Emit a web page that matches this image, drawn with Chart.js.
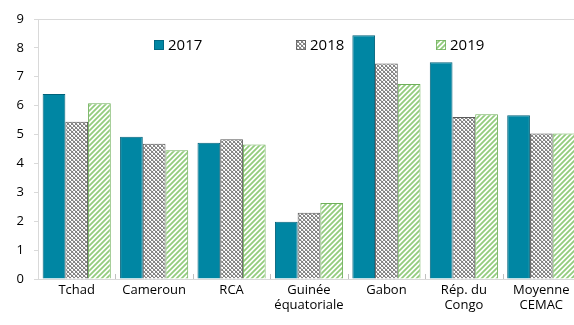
<!DOCTYPE html>
<html><head><meta charset="utf-8">
<script src="https://cdn.jsdelivr.net/npm/chart.js@4.4.1/dist/chart.umd.min.js"></script>
<style>html,body{margin:0;padding:0;overflow:hidden;background:#fff}#wrap{width:581px;height:325px;position:relative}</style>
</head><body><div id="wrap"><canvas id="c" width="581" height="325"></canvas></div>
<script>
const categories = [['Tchad'], ['Cameroun'], ['RCA'], ['Guinée', 'équatoriale'], ['Gabon'], ['Rép. du', 'Congo'], ['Moyenne', 'CEMAC']];
const seriesNames = ['2017', '2018', '2019'];
const values2017 = [6.40, 4.92, 4.72, 1.98, 8.44, 7.50, 5.67];
const values2018 = [5.44, 4.68, 4.84, 2.29, 7.46, 5.61, 5.04];
const values2019 = [6.08, 4.46, 4.66, 2.63, 6.75, 5.70, 5.04];
const yTicks = [0, 1, 2, 3, 4, 5, 6, 7, 8, 9];

const FONT = "'Open Sans', 'Noto Sans', sans-serif";

function grayPattern() {
  const c = document.createElement('canvas'); c.width = 4; c.height = 4;
  const g = c.getContext('2d');
  g.fillStyle = '#ffffff'; g.fillRect(0, 0, 4, 4);
  g.fillStyle = '#858585';
  [[0,0],[1,1],[2,2],[3,3],[3,0],[2,1],[1,2],[0,3]].forEach(([x,y])=>g.fillRect(x,y,1,1));
  g.fillStyle = '#c8c8c8';
  [[1,0],[3,2]].forEach(([x,y])=>g.fillRect(x,y,1,1));
  return g.createPattern(c, 'repeat');
}
function greenPattern() {
  const s = 5;
  const c = document.createElement('canvas'); c.width = s; c.height = s;
  const g = c.getContext('2d');
  g.fillStyle = '#ffffff'; g.fillRect(0, 0, s, s);
  g.strokeStyle = '#93cc7e'; g.lineWidth = 1.8;
  g.beginPath();
  g.moveTo(-1, s + 1); g.lineTo(s + 1, -1);
  g.moveTo(-1, 1); g.lineTo(1, -1);
  g.moveTo(s - 1, s + 1); g.lineTo(s + 1, s - 1);
  g.stroke();
  return g.createPattern(c, 'repeat');
}

const fills = ['#0086a3', grayPattern(), greenPattern()];
const borders = ['#00627a', '#5a5a5a', '#6fb05a'];
const seriesValues = [values2017, values2018, values2019];

const frameAndLegend = {
  id: 'frameAndLegend',
  afterDatasetsDraw(chart) {
    const ctx = chart.ctx, a = chart.chartArea, xs = chart.scales.x;
    ctx.save();
    ctx.strokeStyle = '#d9d9d9'; ctx.lineWidth = 1;
    ctx.beginPath(); ctx.moveTo(a.left, a.top + 0.5); ctx.lineTo(a.right, a.top + 0.5); ctx.stroke();
    const n = categories.length, w = (xs.right - xs.left) / n;
    ctx.strokeStyle = '#bfbfbf';
    ctx.beginPath();
    for (let i = 1; i < n; i++) {
      const x = Math.round(xs.getPixelForValue(i) - w / 2) + 0.5;
      ctx.moveTo(x, a.bottom); ctx.lineTo(x, a.bottom - 5);
    }
    ctx.stroke();
    const offs = [116, 258, 398];
    const cy = a.top + 26;
    ctx.font = '15px ' + FONT;
    ctx.textBaseline = 'middle'; ctx.textAlign = 'left';
    chart.data.datasets.forEach((ds, i) => {
      const x = a.left + offs[i];
      ctx.fillStyle = ds.backgroundColor;
      ctx.fillRect(x, cy - 5, 10, 10);
      ctx.strokeStyle = ds.borderColor; ctx.lineWidth = 0.8;
      ctx.strokeRect(x + 0.5, cy - 4.5, 9, 9);
      ctx.fillStyle = '#000';
      ctx.fillText(ds.label, x + 14, cy + 1);
    });
    ctx.restore();
  }
};

new Chart(document.getElementById('c'), {
  type: 'bar',
  data: {
    labels: categories,
    datasets: seriesNames.map((name, i) => ({
      label: name,
      data: seriesValues[i],
      backgroundColor: fills[i],
      borderColor: borders[i],
      borderWidth: 1,
      categoryPercentage: 0.88,
      barPercentage: 1.0
    }))
  },
  options: {
    responsive: false,
    animation: false,
    devicePixelRatio: 1,
    layout: { padding: { top: 19, right: 1, left: 0, bottom: 0 } },
    plugins: { legend: { display: false }, tooltip: { enabled: false } },
    scales: {
      x: {
        grid: { display: true, drawOnChartArea: false, drawTicks: false, tickLength: 0, color: '#d9d9d9' },
        border: { color: '#d9d9d9' },
        ticks: { color: '#000', font: { family: FONT, size: 13 }, padding: 3, maxRotation: 0, autoSkip: false },
        afterFit(s) { s.height = 46; }
      },
      y: {
        min: 0, max: 9,
        afterBuildTicks(s) { s.ticks = yTicks.map(v => ({ value: v })); },
        grid: { drawOnChartArea: false, tickLength: 4, color: '#d9d9d9' },
        border: { color: '#d9d9d9' },
        ticks: { color: '#000', font: { family: FONT, size: 13 }, padding: 10 },
        afterFit(s) { s.width = 38; }
      }
    }
  },
  plugins: [frameAndLegend]
});
</script>
</body></html>
